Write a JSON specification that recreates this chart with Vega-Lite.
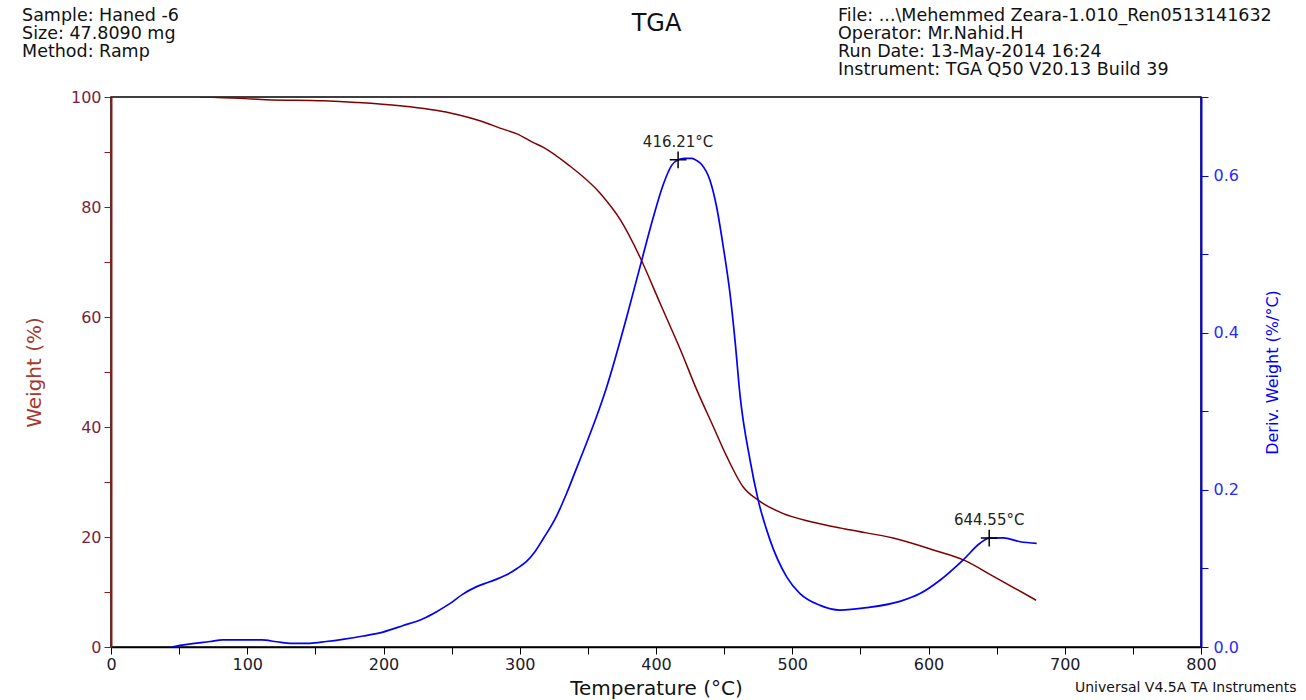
{
  "$schema": "https://vega.github.io/schema/vega-lite/v6.json",
  "autosize": {"type": "none"},
  "padding": {"left": 111, "top": 97, "right": 105, "bottom": 53},
  "width": 1090,
  "height": 550,
  "background": "white",
  "config": {
    "view": {"stroke": "#000000", "strokeWidth": 1.5},
    "axis": {"grid": false, "labelFont": "DejaVu Sans", "titleFont": "DejaVu Sans", "titleFontWeight": "normal", "labelFlush": false, "labelOverlap": false},
    "text": {"font": "DejaVu Sans"}
  },
  "datasets": {
    "weight": [
      {"T": 65, "W": 100.0}, {"T": 95, "W": 99.75}, {"T": 114, "W": 99.5}, {"T": 156, "W": 99.3},
      {"T": 180, "W": 99.0}, {"T": 212, "W": 98.4}, {"T": 249, "W": 97.1}, {"T": 273, "W": 95.5},
      {"T": 286, "W": 94.3}, {"T": 298, "W": 93.3}, {"T": 310, "W": 91.7}, {"T": 317, "W": 90.9},
      {"T": 335, "W": 87.8}, {"T": 359, "W": 82.5}, {"T": 374, "W": 77.6}, {"T": 388, "W": 71.0},
      {"T": 403, "W": 62.5}, {"T": 418, "W": 54.0}, {"T": 430, "W": 46.7}, {"T": 442, "W": 40.1},
      {"T": 452, "W": 34.6}, {"T": 464, "W": 29.1}, {"T": 475, "W": 26.7}, {"T": 493, "W": 24.3},
      {"T": 513, "W": 22.8}, {"T": 542, "W": 21.3}, {"T": 574, "W": 19.8}, {"T": 604, "W": 17.6},
      {"T": 626, "W": 15.8}, {"T": 648, "W": 12.8}, {"T": 679, "W": 8.5}
    ],
    "deriv": [
      {"T": 44.5, "D": 0.0}, {"T": 50.6, "D": 0.002}, {"T": 72.7, "D": 0.007}, {"T": 82, "D": 0.009},
      {"T": 110.6, "D": 0.009}, {"T": 121.6, "D": 0.0067}, {"T": 132.6, "D": 0.0047}, {"T": 146, "D": 0.0047},
      {"T": 158, "D": 0.007}, {"T": 170, "D": 0.0098}, {"T": 185, "D": 0.014}, {"T": 199.6, "D": 0.019},
      {"T": 214, "D": 0.027}, {"T": 229, "D": 0.036}, {"T": 239, "D": 0.045}, {"T": 249, "D": 0.0555},
      {"T": 258, "D": 0.067}, {"T": 268, "D": 0.0765}, {"T": 278, "D": 0.083}, {"T": 290, "D": 0.0915},
      {"T": 298, "D": 0.1}, {"T": 305, "D": 0.109}, {"T": 311, "D": 0.121}, {"T": 317.3, "D": 0.138},
      {"T": 327.1, "D": 0.167}, {"T": 334.5, "D": 0.196}, {"T": 341.8, "D": 0.228}, {"T": 349.1, "D": 0.26},
      {"T": 356.5, "D": 0.294}, {"T": 364, "D": 0.332}, {"T": 378.5, "D": 0.42}, {"T": 389.5, "D": 0.492},
      {"T": 398, "D": 0.547}, {"T": 405.4, "D": 0.589}, {"T": 411.5, "D": 0.613}, {"T": 416.2, "D": 0.62},
      {"T": 421, "D": 0.622}, {"T": 426.2, "D": 0.622}, {"T": 430, "D": 0.619}, {"T": 433.5, "D": 0.614},
      {"T": 439.6, "D": 0.594}, {"T": 444.5, "D": 0.56}, {"T": 449.4, "D": 0.509}, {"T": 454.3, "D": 0.45},
      {"T": 458, "D": 0.39}, {"T": 461.7, "D": 0.32}, {"T": 469, "D": 0.238}, {"T": 475, "D": 0.187},
      {"T": 483.7, "D": 0.136}, {"T": 496, "D": 0.089}, {"T": 505.7, "D": 0.068}, {"T": 520.4, "D": 0.053},
      {"T": 535, "D": 0.047}, {"T": 554.6, "D": 0.05}, {"T": 579, "D": 0.058}, {"T": 593.8, "D": 0.068},
      {"T": 608.4, "D": 0.085}, {"T": 625.5, "D": 0.111}, {"T": 637.8, "D": 0.132}, {"T": 644.55, "D": 0.1386},
      {"T": 654.9, "D": 0.139}, {"T": 667.2, "D": 0.134}, {"T": 679.4, "D": 0.132}
    ],
    "peaks": [
      {"T": 416.21, "D": 0.62, "label": "416.21°C"},
      {"T": 644.55, "D": 0.1386, "label": "644.55°C"}
    ]
  },
  "layer": [
    {
      "layer": [
        {
          "data": {"name": "weight"},
          "mark": {"type": "line", "color": "#800000", "strokeWidth": 1.5, "clip": true, "interpolate": "monotone"},
          "encoding": {
            "x": {"field": "T", "type": "quantitative", "scale": {"domain": [0, 800], "nice": false, "zero": false},
              "axis": {"values": [0, 50, 100, 150, 200, 250, 300, 350, 400, 450, 500, 550, 600, 650, 700, 750, 800],
                "labelExpr": "datum.value % 100 === 0 ? datum.label : ''",
                "format": "d", "domainColor": "#000000", "domainWidth": 1.5, "tickColor": "#000000", "tickSize": 7,
                "labelColor": "#1a1a2a", "labelFontSize": 16, "labelPadding": 2,
                "title": "Temperature (°C)", "titleColor": "#111111", "titleFontSize": 20, "titlePadding": 6}},
            "y": {"field": "W", "type": "quantitative", "scale": {"domain": [0, 100], "nice": false, "zero": false},
              "axis": {"orient": "left",
                "values": [0, 5, 10, 15, 20, 25, 30, 35, 40, 45, 50, 55, 60, 65, 70, 75, 80, 85, 90, 95, 100],
                "labelExpr": "datum.value % 20 === 0 ? datum.label : ''",
                "format": "d", "domainColor": "#8b1a1a", "domainWidth": 2, "tickColor": "#8b1a1a", "tickSize": 7,
                "labelColor": "#7a1f3d", "labelFontSize": 16, "labelPadding": 3,
                "title": "Weight (%)", "titleColor": "#a33a2e", "titleFontSize": 20, "titlePadding": 26}}
          }
        },
        {
          "data": {"values": [{"k": 1}]},
          "mark": {"type": "text", "align": "left", "baseline": "top", "fontSize": 17.5, "lineBreak": "\n", "lineHeight": 18, "color": "#111111"},
          "encoding": {
            "x": {"datum": -65.3, "type": "quantitative", "scale": {"domain": [0, 800], "nice": false, "zero": false}},
            "y": {"datum": 116.4, "type": "quantitative", "scale": {"domain": [0, 100], "nice": false, "zero": false}},
            "text": {"value": "Sample: Haned -6\nSize:  47.8090 mg\nMethod: Ramp"}
          }
        },
        {
          "data": {"values": [{"k": 1}]},
          "mark": {"type": "text", "align": "left", "baseline": "top", "fontSize": 17.5, "lineBreak": "\n", "lineHeight": 18, "color": "#111111"},
          "encoding": {
            "x": {"datum": 533.6, "type": "quantitative", "scale": {"domain": [0, 800], "nice": false, "zero": false}},
            "y": {"datum": 116.4, "type": "quantitative", "scale": {"domain": [0, 100], "nice": false, "zero": false}},
            "text": {"value": "File: ...\\Mehemmed  Zeara-1.010_Ren0513141632\nOperator: Mr.Nahid.H\nRun Date: 13-May-2014 16:24\nInstrument: TGA Q50 V20.13 Build 39"}
          }
        },
        {
          "data": {"values": [{"k": 1}]},
          "mark": {"type": "text", "align": "center", "baseline": "middle", "fontSize": 24, "color": "#111111"},
          "encoding": {
            "x": {"datum": 400.4, "type": "quantitative", "scale": {"domain": [0, 800], "nice": false, "zero": false}},
            "y": {"datum": 113.3, "type": "quantitative", "scale": {"domain": [0, 100], "nice": false, "zero": false}},
            "text": {"value": "TGA"}
          }
        },
        {
          "data": {"values": [{"k": 1}]},
          "mark": {"type": "text", "align": "left", "baseline": "middle", "fontSize": 14, "color": "#111111"},
          "encoding": {
            "x": {"datum": 707.5, "type": "quantitative", "scale": {"domain": [0, 800], "nice": false, "zero": false}},
            "y": {"datum": -7.45, "type": "quantitative", "scale": {"domain": [0, 100], "nice": false, "zero": false}},
            "text": {"value": "Universal V4.5A TA Instruments"}
          }
        }
      ]
    },
    {
      "layer": [
        {
          "data": {"name": "deriv"},
          "mark": {"type": "line", "color": "#0000ff", "strokeWidth": 1.7, "clip": true, "interpolate": "monotone"},
          "encoding": {
            "x": {"field": "T", "type": "quantitative", "scale": {"domain": [0, 800], "nice": false, "zero": false}},
            "y": {"field": "D", "type": "quantitative", "scale": {"domain": [0, 0.7], "nice": false, "zero": false},
              "axis": {"orient": "right",
                "values": [0, 0.05, 0.1, 0.15, 0.2, 0.25, 0.3, 0.35, 0.4, 0.45, 0.5, 0.55, 0.6, 0.65, 0.7],
                "labelExpr": "(round(datum.value * 100) % 20 === 0 && datum.value < 0.65) ? format(datum.value, '.1f') : ''",
                "domainColor": "#0000ff", "domainWidth": 2, "tickColor": "#0000ff", "tickSize": 7,
                "labelColor": "#2a2aff", "labelFontSize": 16, "labelPadding": 5,
                "title": "Deriv. Weight (%/°C)", "titleAngle": 270, "titleBaseline": "bottom", "titleColor": "#0000ff", "titleFontSize": 16, "titlePadding": 42}}
          }
        },
        {
          "data": {"name": "peaks"},
          "mark": {"type": "point", "shape": "M-1,0L1,0M0,-1L0,1", "size": 280, "filled": false, "stroke": "#000000", "strokeWidth": 1.5, "opacity": 1},
          "encoding": {
            "x": {"field": "T", "type": "quantitative", "scale": {"domain": [0, 800], "nice": false, "zero": false}},
            "y": {"field": "D", "type": "quantitative", "scale": {"domain": [0, 0.7], "nice": false, "zero": false}}
          }
        },
        {
          "data": {"name": "peaks"},
          "mark": {"type": "text", "align": "center", "baseline": "middle", "dy": -18, "fontSize": 15, "color": "#222222"},
          "encoding": {
            "x": {"field": "T", "type": "quantitative", "scale": {"domain": [0, 800], "nice": false, "zero": false}},
            "y": {"field": "D", "type": "quantitative", "scale": {"domain": [0, 0.7], "nice": false, "zero": false}},
            "text": {"field": "label", "type": "nominal"}
          }
        }
      ]
    }
  ],
  "resolve": {"scale": {"y": "independent"}, "axis": {"y": "independent"}}
}
